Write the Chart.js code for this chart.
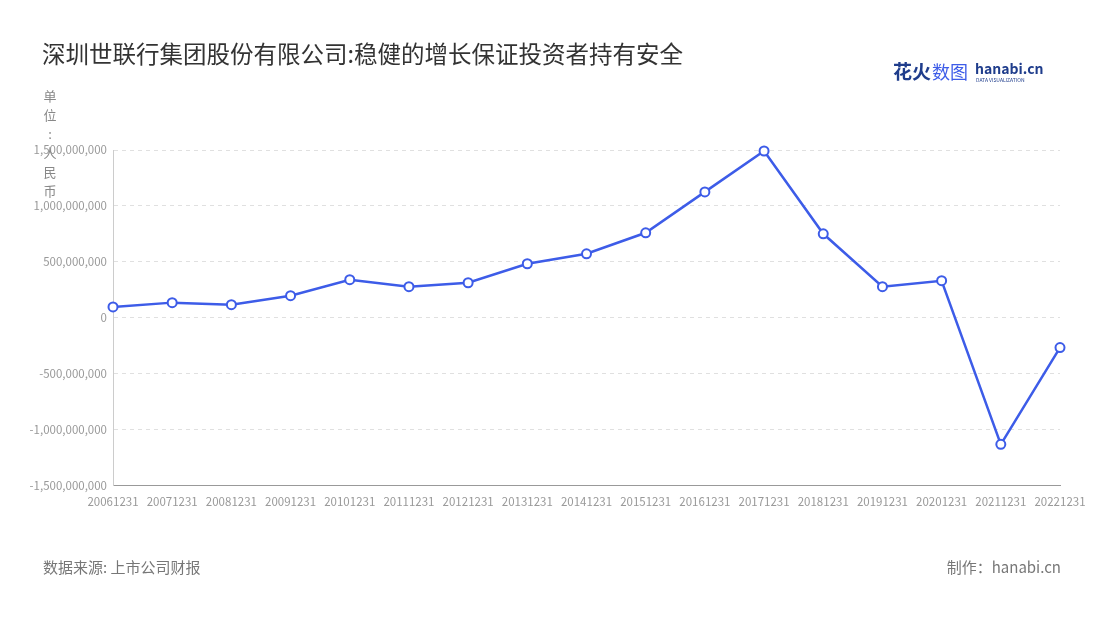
<!DOCTYPE html>
<html><head><meta charset="utf-8">
<script src="https://cdn.jsdelivr.net/npm/chart.js@4"></script>
<style>body{margin:0;background:#fff}#w{width:1100px;height:620px}</style>
</head><body><div id="w"><canvas id="c"></canvas></div>
<script>
const categories=["20061231","20071231","20081231","20091231","20101231","20111231","20121231","20131231","20141231","20151231","20161231","20171231","20181231","20191231","20201231","20211231","20221231"];
const values=[95e6,134e6,116e6,196e6,339e6,277e6,312e6,482e6,571e6,759e6,1125e6,1491e6,750e6,277e6,330e6,-1134e6,-268e6];
const titleText="深圳世联行集团股份有限公司:稳健的增长保证投资者持有安全";
const unitText="单位：人民币";
const sourceText="数据来源: 上市公司财报";
const makerText="制作：hanabi.cn";
const F='"Noto Sans CJK SC","Noto Sans",sans-serif';
const deco={id:'deco',afterDraw(ch){const g=ch.ctx;g.save();
g.fillStyle='#333';g.font='23.5px '+F;g.textBaseline='middle';g.textAlign='left';g.fillText(titleText,42,54);
g.font='bold 19px '+F;g.fillStyle='#1f3d8c';g.fillText('花火',893,72);g.fillStyle='#3d5ce8';g.font='18px '+F;g.fillText('数图',932,72);
g.font='bold 14px '+F;g.fillStyle='#1f3d8c';g.fillText('hanabi.cn',975,69);g.font='5px '+F;g.fillText('DATA VISUALIZATION',976,80);
g.fillStyle='#888';g.font='13px '+F;g.textAlign='center';
[...unitText].forEach((ch2,i)=>{g.fillText(ch2==='：'?':':ch2,50,96+i*19);});
g.font='15px '+F;g.fillStyle='#777';g.textAlign='left';g.fillText(sourceText,43,567);
g.textAlign='right';g.fillText(makerText,1061,567);g.restore();}};
new Chart(document.getElementById('c'),{type:'line',
data:{labels:categories,datasets:[{data:values,clip:false,borderColor:'#3d5ce8',borderWidth:2.5,pointBackgroundColor:'#fff',pointBorderColor:'#3d5ce8',pointBorderWidth:2,pointRadius:4.5,tension:0}]},
options:{responsive:true,maintainAspectRatio:false,animation:false,
layout:{padding:{top:150,right:40,bottom:109,left:0}},
plugins:{legend:{display:false},tooltip:{enabled:false}},
scales:{
x:{offset:false,grid:{display:false},border:{color:'#999'},ticks:{color:'#999',font:{size:11.5,family:F},maxRotation:0,autoSkip:false,padding:2}},
y:{min:-1.5e9,max:1.5e9,afterFit(s){s.width=113;},
grid:{color:'#e0e0e0',drawTicks:false},border:{dash:[4,4],color:'#ccc'},
ticks:{stepSize:5e8,color:'#999',font:{size:11.5,family:F},padding:6,callback:v=>v.toLocaleString('en-US')}}}},
plugins:[deco]});
</script></body></html>
